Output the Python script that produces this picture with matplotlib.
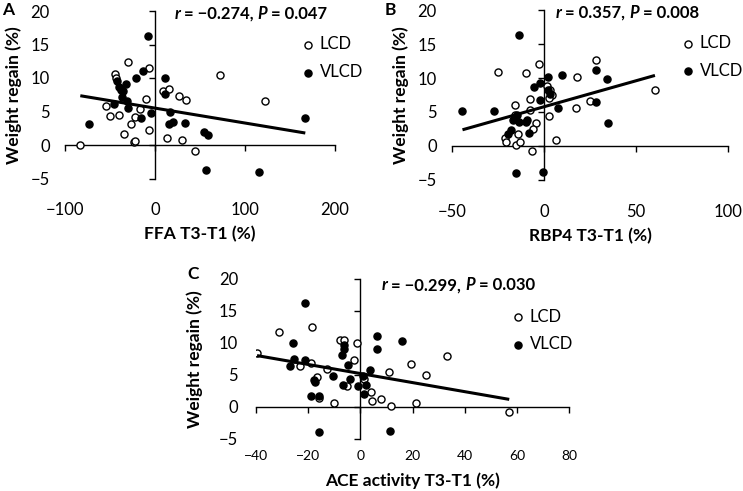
import numpy as np
import matplotlib
matplotlib.use("Agg")
import matplotlib.pyplot as plt

plt.rcParams['font.family'] = ['Lato', 'DejaVu Sans']

# ---------------- data ----------------
# Panel A: FFA T3-T1 (%) vs weight regain (%)
a_lcd_x = [-83, -55, -50, -44, -43, -40, -34, -30, -27, -23, -22, -22.6, -17, -10, -7, -7,
           9, 15.5, 13, 27, 30, 34, 44, 72, 122]
a_lcd_y = [0.0, 5.8, 4.4, 10.6, 10.0, 4.5, 1.6, 12.4, 3.1, 0.5, 0.6, 4.2, 5.3, 6.8, 11.5, 2.3,
           8.0, 8.4, 1.1, 7.3, 0.8, 6.7, -0.9, 10.5, 6.5]
a_vlcd_x = [-73, -46, -42, -40, -38, -36, -32, -37, -31.5, -30, -21, -15.5, -13, -8, -5,
            11, 11, 17, 15, 20, 33, 54.5, 58.5, 56.7, 115, 167]
a_vlcd_y = [3.1, 6.1, 9.5, 8.7, 8.2, 8.0, 9.1, 7.2, 6.5, 5.5, 10.0, 4.0, 11.1, 16.2, 4.8,
            10.0, 7.6, 4.9, 3.2, 3.4, 3.3, 2.0, 1.5, -3.8, -4.1, 4.1]

# Panel B: RBP4 T3-T1 (%) vs weight regain (%)
b_lcd_x = [-25.2, -9.6, -2.9, 18, 28, 60.3, 1.8, 3, 4.5, 2.5, 2.6, 17.5, 24.8, 6.7, -6.3,
           -7.8, -15.9, -15.9, -7.4, -4.5, -6, -14.4, -21.2, -20.4, -15.4, -13.2]
b_lcd_y = [10.9, 10.7, 12.0, 10.2, 12.7, 8.2, 8.8, 8.3, 7.5, 7.0, 4.4, 5.6, 6.6, 0.9, -0.7,
           6.9, 6.0, 4.6, 5.35, 3.4, 2.5, 1.7, 1.2, 0.6, 0.1, 0.6]
b_vlcd_x = [-44.3, -27.2, -13.8, -15.2, -0.7, 2.4, 10, -2.3, -5.6, -2.3, 2.2, 3.1, 7.8, 28,
            28, 34, 35, -16.8, -13.6, -17.7, -19.6, -9.2, -8.2, -14.7, -10]
b_vlcd_y = [5.1, 5.1, 16.3, -4.0, -3.8, 10.2, 10.4, 9.3, 8.7, 6.8, 8.2, 7.7, 5.6, 11.2,
            6.5, 9.8, 3.4, 3.8, 3.5, 2.3, 1.8, 3.8, 1.9, 4.5, 3.5]

# Panel C: ACE activity T3-T1 (%) vs weight regain (%)
c_lcd_x = [-39.6, -31.3, -18.4, -7.7, -6.4, -1.3, -2.3, -18.8, -23.2, -12.8, -16.6, -15.8,
           -10.1, -5.1, 1.4, 3.9, 4.4, 7.8, 10.8, 11.6, 19.5, 21.4, 25.3, 33.3, 57]
c_lcd_y = [8.4, 11.6, 12.5, 10.4, 10.4, 10.0, 7.3, 6.9, 6.4, 5.9, 4.6, 1.4,
           0.6, 3.2, 4.4, 2.3, 0.9, 1.2, 5.5, 0.15, 6.7, 0.6, 5.0, 7.9, -0.8]
c_vlcd_x = [-21.3, -26, -25.4, -26.8, -21.3, -17.9, -17.5, -19.1, -15.8, -16, -10.5, -6.6,
            -6.9, -6.4, -6.4, -4.7, -4.1, -0.9, 0.8, 3.6, 2.3, 1.3, 6.5, 6.4, 16, 11.2]
c_vlcd_y = [16.25, 10, 7.5, 6.3, 7.3, 4.2, 3.9, 1.7, 1.7, -3.9, 4.8, 3.4,
            8.1, 9.0, 9.6, 6.5, 4.3, 3.3, 4.8, 5.7, 3.4, 2.0, 11.0, 9.0, 10.2, -3.8]

a_xticks = [-100, 0, 100, 200]
b_xticks = [-50, 0, 50, 100]
c_xticks = [-40, -20, 0, 20, 40, 60, 80]
yticks = [-5, 0, 5, 10, 15, 20]

a_stats = ("\u22120.274", "0.047")
b_stats = ("0.357", "0.008")
c_stats = ("\u22120.299", "0.030")

ylabel = "Weight regain (%)"
a_xlabel = "FFA T3-T1 (%)"
b_xlabel = "RBP4 T3-T1 (%)"
c_xlabel = "ACE activity T3-T1 (%)"

# ---------------- figure ----------------
W, H = 743, 491
fig = plt.figure(figsize=(W / 100, H / 100), dpi=100)


def px_axes(left, top, right, bottom):
    return fig.add_axes([left / W, 1 - bottom / H, (right - left) / W, (bottom - top) / H])


def panel(ax, lx, ly, vx, vy, xticks, stats, xlabel, letter, letter_pos,
          stat_pos, leg_pos, ylab_pad, yt_pad, xt_pad, xlab_pad, xt_size=12):
    ax.set_xlim(xticks[0], xticks[-1])
    ax.set_ylim(yticks[0], yticks[-1])
    for s in ('top', 'right'):
        ax.spines[s].set_visible(False)
    ax.spines['left'].set_position(('data', 0))
    ax.spines['bottom'].set_position(('data', 0))
    for s in ('left', 'bottom'):
        ax.spines[s].set_linewidth(1.0)
    ax.set_xticks(xticks)
    ax.set_yticks(yticks)
    ax.tick_params(labelleft=False, labelbottom=False, direction='out',
                   length=4.5, width=1.0)
    ax.patch.set_alpha(0)

    # labels at the low side, Excel style
    secx = ax.secondary_xaxis('bottom')
    secx.set_xticks(xticks)
    secx.spines['bottom'].set_visible(False)
    secx.tick_params(length=0, pad=xt_pad, labelsize=xt_size)
    secx.set_xlabel(xlabel, fontsize=12.5, fontweight='bold', labelpad=xlab_pad)
    secy = ax.secondary_yaxis('left')
    secy.set_yticks(yticks)
    secy.spines['left'].set_visible(False)
    secy.tick_params(length=0, pad=yt_pad, labelsize=12)
    secy.set_ylabel(ylabel, fontsize=12.5, fontweight='bold', labelpad=ylab_pad)

    ax.scatter(lx, ly, s=26, facecolors='white', edgecolors='black', linewidths=1.0,
               label='LCD', zorder=3)
    ax.scatter(vx, vy, s=26, facecolors='black', edgecolors='black', linewidths=1.0,
               label='VLCD', zorder=4)

    allx = np.array(lx + vx, dtype=float)
    ally = np.array(ly + vy, dtype=float)
    k, b = np.polyfit(allx, ally, 1)
    xs = np.array([allx.min(), allx.max()])
    ax.plot(xs, k * xs + b, color='black', lw=2.2, zorder=5, solid_capstyle='butt')

    ax.legend(loc='upper left', bbox_to_anchor=leg_pos, frameon=False,
              fontsize=12, handletextpad=0.1, labelspacing=0.7,
              borderaxespad=0, borderpad=0, handlelength=1.2, markerscale=1.0)

    t1 = ax.text(stat_pos[0], stat_pos[1], "r", transform=ax.transAxes,
                 fontsize=12, fontweight='bold', style='italic', va='center', ha='left')
    t2 = ax.annotate(" = " + stats[0] + ", ", xy=(1, 0), xycoords=t1, va='bottom',
                     ha='left', fontsize=12, fontweight='bold')
    t3 = ax.annotate("P", xy=(1, 0), xycoords=t2, va='bottom', ha='left',
                     fontsize=12, fontweight='bold', style='italic')
    ax.annotate(" = " + stats[1], xy=(1, 0), xycoords=t3, va='bottom', ha='left',
                fontsize=12, fontweight='bold')

    fig.text(letter_pos[0] / W, 1 - letter_pos[1] / H, letter, fontsize=12.5,
             fontweight='bold', ha='left', va='center')


axA = px_axes(65, 11, 335, 178.5)
panel(axA, a_lcd_x, a_lcd_y, a_vlcd_x, a_vlcd_y, a_xticks, a_stats, a_xlabel, 'A',
      (2, 10), (0.405, 0.985), (0.863, 0.848), 6, 11, 17, 6)

axB = px_axes(452, 10, 728, 180)
panel(axB, b_lcd_x, b_lcd_y, b_vlcd_x, b_vlcd_y, b_xticks, b_stats, b_xlabel, 'B',
      (385, 10), (0.375, 0.985), (0.819, 0.853), 6, 11, 17, 6)

axC = px_axes(256, 278.7, 569.3, 438.7)
panel(axC, c_lcd_x, c_lcd_y, c_vlcd_x, c_vlcd_y, c_xticks, c_stats, c_xlabel, 'C',
      (187, 274), (0.40, 0.96), (0.805, 0.8125), 11, 13, 8, 8, xt_size=10)

fig.savefig('out.png', dpi=100)
